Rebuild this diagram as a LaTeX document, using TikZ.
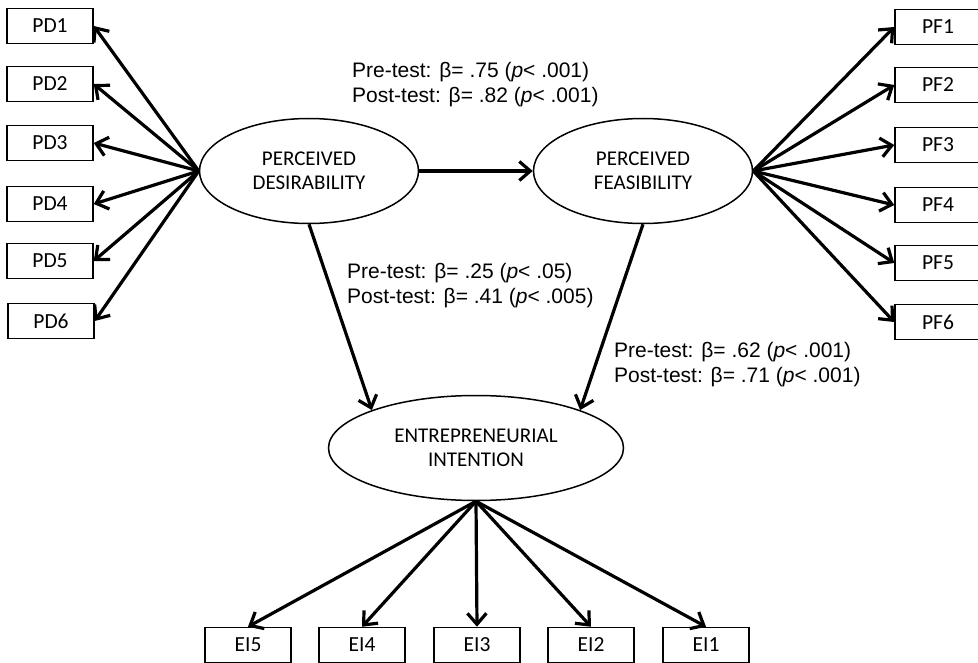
\documentclass[tikz,border=0pt]{standalone}
\usepackage{fontspec}
\setmainfont{Liberation Sans}
\newfontfamily\calibri{Carlito}
\usetikzlibrary{arrows.meta,shapes.geometric}

\begin{document}
\begin{tikzpicture}[
  x=1pt,y=-1pt,
  indicator/.style={draw,line width=1.5pt,minimum width=86pt,minimum height=35pt,inner sep=0pt,font=\calibri\fontsize{21.5}{24}\selectfont},
  factor/.style={draw,ellipse,line width=1.5pt,minimum width=219pt,minimum height=105pt,inner sep=0pt,align=center,font=\calibri\fontsize{21}{24}\selectfont},
  loading/.style={-{Straight Barb[length=11pt,width=19pt]},line width=3.2pt},
  estimate/.style={anchor=west,align=left,inner sep=0pt,font=\fontsize{21}{25}\selectfont}
]
  \useasboundingbox (0,0) rectangle (978,663);

  % latent factors
  \node[factor] (PD) at (309,171) {PERCEIVED\\DESIRABILITY};
  \node[factor] (PF) at (643,171) {PERCEIVED\\FEASIBILITY};
  \node[factor,minimum width=295pt] (EI) at (476,448) {ENTREPRENEURIAL\\INTENTION};

  % indicators
  \node[indicator] (PD1) at (50,26) {PD1};
  \node[indicator] (PD2) at (50,84) {PD2};
  \node[indicator] (PD3) at (50,143) {PD3};
  \node[indicator] (PD4) at (50,204) {PD4};
  \node[indicator] (PD5) at (50,261) {PD5};
  \node[indicator] (PD6) at (51,321) {PD6};

  \node[indicator] (PF1) at (938,27) {PF1};
  \node[indicator] (PF2) at (938,85) {PF2};
  \node[indicator] (PF3) at (938,145) {PF3};
  \node[indicator] (PF4) at (938,205) {PF4};
  \node[indicator] (PF5) at (938,263) {PF5};
  \node[indicator] (PF6) at (938,322) {PF6};

  \node[indicator] (EI5) at (248,645) {EI5};
  \node[indicator] (EI4) at (362,645) {EI4};
  \node[indicator] (EI3) at (477,645) {EI3};
  \node[indicator] (EI2) at (591,645) {EI2};
  \node[indicator] (EI1) at (706,645) {EI1};

  % loadings
  \draw[loading] (PD.west) -- (PD1.east);
  \draw[loading] (PD.west) -- (PD2.east);
  \draw[loading] (PD.west) -- (PD3.east);
  \draw[loading] (PD.west) -- (PD4.east);
  \draw[loading] (PD.west) -- (PD5.east);
  \draw[loading] (PD.west) -- (PD6.east);

  \draw[loading] (PF.east) -- (PF1.west);
  \draw[loading] (PF.east) -- (PF2.west);
  \draw[loading] (PF.east) -- (PF3.west);
  \draw[loading] (PF.east) -- (PF4.west);
  \draw[loading] (PF.east) -- (PF5.west);
  \draw[loading] (PF.east) -- (PF6.west);

  \draw[loading] (EI.south) -- (EI5.north);
  \draw[loading] (EI.south) -- (EI4.north);
  \draw[loading] (EI.south) -- (EI3.north);
  \draw[loading] (EI.south) -- (EI2.north);
  \draw[loading] (EI.south) -- (EI1.north);

  % structural paths
  \draw[loading] (PD.east) -- (PF.west);
  \draw[loading] (PD.south) -- (EI.160);
  \draw[loading] (PF.south) -- (EI.20);

  \node[estimate] (estDF) at (352,85) {Pre-test: β= .75 (\textit{p}< .001)\\Post-test: β= .82 (\textit{p}< .001)};
  \node[estimate] (estDI) at (347,286) {Pre-test: β= .25 (\textit{p}< .05)\\Post-test: β= .41 (\textit{p}< .005)};
  \node[estimate] (estFI) at (614,365) {Pre-test: β= .62 (\textit{p}< .001)\\Post-test: β= .71 (\textit{p}< .001)};
\end{tikzpicture}
\end{document}
